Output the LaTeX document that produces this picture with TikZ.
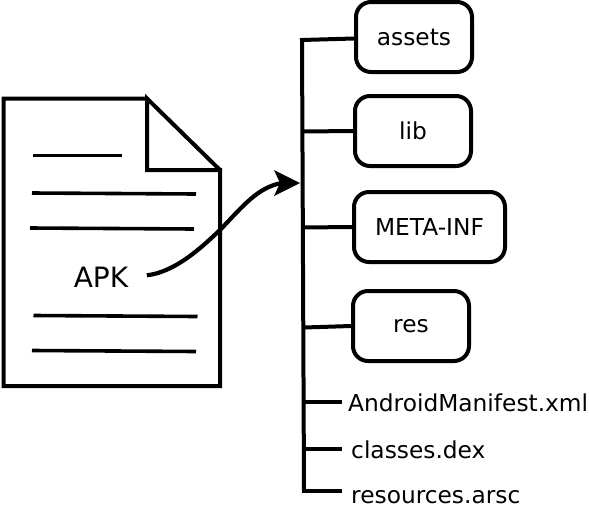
\documentclass[tikz,border=0pt]{standalone}
\usepackage{fontspec}
\setmainfont{DejaVu Sans}
\tikzset{
  ln/.style={line width=4pt,black},
  thin ln/.style={line width=3.6pt,black},
  folder/.style={draw,line width=4pt,rounded corners=15pt,minimum height=70pt,inner sep=0pt,font=\fontsize{23.3}{27}\selectfont,text=black},
  file/.style={anchor=base west,inner sep=0pt,font=\fontsize{23.3}{27}\selectfont,text=black},
  flow/.style={line width=4.2pt,black},
  flowhead/.style={fill=black}
}
\begin{document}
\begin{tikzpicture}[x=1pt,y=-1pt]
\useasboundingbox (0,0) rectangle (589,509);
% document
\draw[ln,miter limit=10] (147,98.5) -- (3.5,98.5) -- (3.5,386) -- (220,386) -- (220,170) -- (147,170) -- (147,98.5) -- (220,170);
\draw[thin ln] (33,155.5) -- (122,155.5);
\draw[thin ln] (32,193) -- (196,194);
\draw[thin ln] (30,228) -- (194,229);
\draw[thin ln] (33.5,315.5) -- (197.5,316.5);
\draw[thin ln] (32,350.5) -- (196,351.5);
\node[inner xsep=18.5pt,inner ysep=0pt,anchor=base,font=\fontsize{28}{32}\selectfont] (apk) at (101,287.5) {APK};
% spine
\coordinate (top) at (302,40);
\coordinate (bot) at (304,491);
\coordinate (arrowend) at (300,183);
\coordinate (arrowneck) at (282,183);
\draw[ln] (top) -- (bot);
% folders
\node[folder,minimum width=116pt] (assets) at (414,37) {assets};
\node[folder,minimum width=116pt] (lib) at (413,131) {lib};
\node[folder,minimum width=151pt] (meta) at (429.5,227) {META-INF};
\node[folder,minimum width=116pt] (res) at (411,326) {res};
% files
\node[file] (manifest) at (348,411.5) {AndroidManifest.xml};
\node[file] (classes) at (351,458) {classes.dex};
\node[file] (resources) at (351,503) {resources.arsc};
% branches
\coordinate (b1) at (303,131.5);
\coordinate (b2) at (303,227.5);
\coordinate (b3) at (304,327.5);
\coordinate (b4) at (304,401.5);
\coordinate (b5) at (304,449);
\coordinate (e4) at (342,401.5);
\coordinate (e5) at (342,449);
\coordinate (e6) at (340,491);
\draw[ln,line cap=rect] (top) -- ([yshift=-1.5pt]assets.west);
\draw[ln] (b1) -- (lib.west);
\draw[ln] (b2) -- (meta.west);
\draw[ln] (b3) -- (res.west);
\draw[ln] (b4) -- (e4);
\draw[ln] (b5) -- (e5);
\draw[ln,line cap=rect] (bot) -- (e6);
% arrow
\draw[flow] ([yshift=2pt]apk.east) .. controls (176,272) and (203,246) .. (220,230) .. controls (243,206) and (258,187) .. (arrowneck);
\fill[flowhead] (arrowend) -- (274,170) -- (280,183) -- (274,196) -- cycle;
\end{tikzpicture}
\end{document}
